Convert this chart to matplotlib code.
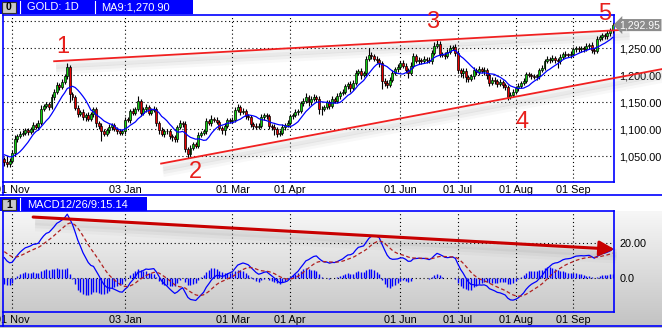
import matplotlib.pyplot as plt
import matplotlib.transforms as mtransforms
from matplotlib.colors import LinearSegmentedColormap
from matplotlib.patches import Rectangle
import numpy as np
import pandas as pd

plt.rcParams['font.family'] = ['Liberation Sans', 'DejaVu Sans']

# ---------------- data ----------------
month_labels = ['', '01 Nov', '', '03 Jan', '', '01 Mar', '01 Apr', '', '01 Jun', '01 Jul', '01 Aug', '01 Sep']

close_oct = [1040, 1035, 1042]
close_nov = [1057, 1082, 1088, 1092, 1094, 1098, 1095, 1100, 1108, 1104, 1112, 1138, 1143, 1146, 1142,
             1160, 1170, 1182, 1178, 1188]
close_dec = [1198, 1216, 1165, 1160, 1140, 1128, 1132, 1122, 1126, 1120, 1128, 1138, 1112, 1106, 1096,
             1092, 1098, 1104, 1108, 1100, 1096, 1093, 1097]
close_jan = [1118, 1117, 1134, 1131, 1138, 1152, 1130, 1137, 1141, 1131, 1136, 1138, 1112, 1099, 1092,
             1097, 1096, 1088, 1085, 1082]
close_feb = [1104, 1112, 1110, 1064, 1055, 1066, 1072, 1070, 1090, 1093, 1096, 1115, 1112, 1119, 1117,
             1114, 1103, 1099, 1107, 1117, 1116]
close_mar = [1118, 1136, 1141, 1132, 1134, 1124, 1122, 1110, 1107, 1104, 1106, 1122, 1126, 1124, 1106,
             1104, 1100, 1092, 1094, 1104, 1108, 1112]
close_apr = [1124, 1126, 1132, 1134, 1148, 1152, 1160, 1150, 1157, 1160, 1157, 1137, 1138, 1141, 1150,
             1144, 1156, 1153, 1162, 1167, 1170, 1180]
close_may = [1183, 1176, 1186, 1205, 1208, 1200, 1204, 1230, 1238, 1236, 1231, 1228, 1222, 1190, 1186,
             1182, 1192, 1204, 1212, 1215]
close_jun = [1222, 1218, 1210, 1204, 1218, 1236, 1226, 1228, 1226, 1230, 1228, 1226, 1242, 1255, 1258,
             1240, 1238, 1236, 1244, 1250, 1252, 1242]
close_jul = [1210, 1205, 1208, 1196, 1194, 1198, 1210, 1206, 1212, 1208, 1210, 1200, 1186, 1192, 1190,
             1184, 1188, 1182, 1178, 1160, 1164, 1170]
close_aug = [1176, 1180, 1186, 1190, 1202, 1200, 1199, 1197, 1198, 1210, 1214, 1226, 1230, 1228, 1232,
             1228, 1226, 1234, 1240, 1238, 1237, 1240]
close_sep = [1248, 1250, 1248, 1250, 1249, 1254, 1256, 1247, 1245, 1268, 1270, 1274, 1272, 1278, 1283,
             1292.95]

# wick lengths above / below the candle bodies
wick_up = [4, 10, 5,
           5, 8, 4, 5, 4, 4, 5, 4, 5, 4, 5, 7, 4, 5, 4, 6, 5, 5, 4, 5,
           4, 6, 3, 5, 4, 5, 4, 5, 4, 6, 4, 4, 4, 4, 5, 4, 4, 5, 4, 4, 5, 4, 4,
           4, 5, 4, 5, 4, 9, 5, 4, 5, 4, 4, 5, 4, 4, 5, 4, 4, 5, 4, 4,
           4, 6, 4, 5, 4, 5, 4, 4, 5, 4, 4, 6, 4, 8, 4, 5, 4, 4, 5, 4, 4,
           4, 5, 6, 4, 5, 4, 4, 5, 4, 4, 5, 6, 4, 5, 4, 4, 5, 4, 4, 5, 4, 5,
           5, 4, 5, 4, 5, 6, 8, 4, 5, 6, 4, 4, 5, 4, 5, 4, 6, 4, 5, 4, 5, 4,
           4, 6, 5, 5, 4, 5, 4, 5, 12, 5, 4, 5, 4, 4, 5, 6, 4, 5, 4, 5,
           5, 6, 4, 4, 6, 5, 4, 5, 4, 5, 4, 5, 5, 6, 7, 5, 4, 5, 4, 6, 4, 5,
           5, 4, 6, 5, 4, 5, 6, 4, 5, 4, 5, 4, 4, 5, 4, 4, 5, 4, 4, 4, 5, 4,
           4, 5, 4, 5, 5, 4, 5, 4, 5, 4, 5, 5, 6, 4, 5, 4, 4, 5, 4, 5, 4, 5,
           4, 5, 4, 5, 4, 5, 4, 5, 4, 5, 4, 5, 4, 5, 4, 3]
wick_dn = [8, 5, 4,
           4, 6, 5, 4, 5, 4, 6, 4, 5, 4, 5, 4, 5, 4, 6, 4, 5, 4, 5, 4,
           4, 5, 14, 6, 5, 6, 4, 5, 6, 4, 5, 5, 8, 5, 18, 5, 4, 4, 5, 4, 5, 4, 4,
           5, 4, 5, 4, 5, 4, 6, 4, 5, 4, 5, 4, 6, 8, 5, 6, 4, 5, 6, 5,
           5, 4, 6, 6, 9, 4, 5, 4, 4, 5, 4, 5, 4, 5, 4, 4, 5, 8, 9, 4, 5,
           5, 4, 4, 6, 4, 5, 4, 5, 6, 4, 4, 4, 5, 4, 6, 5, 10, 6, 4, 4, 5, 4,
           4, 5, 4, 5, 4, 5, 4, 6, 5, 4, 6, 8, 11, 5, 4, 6, 4, 5, 4, 5, 4, 5,
           5, 6, 4, 4, 5, 6, 4, 5, 4, 5, 4, 5, 6, 15, 6, 5, 4, 5, 4, 5,
           4, 5, 6, 9, 4, 5, 4, 6, 5, 4, 6, 4, 5, 4, 5, 6, 4, 5, 4, 5, 4, 6,
           6, 8, 10, 9, 6, 5, 4, 6, 5, 4, 8, 6, 5, 4, 6, 5, 4, 6, 5, 5, 4, 5,
           4, 5, 4, 4, 5, 4, 5, 4, 5, 4, 4, 5, 4, 5, 4, 6, 13, 5, 4, 5, 4, 5,
           5, 4, 5, 4, 5, 4, 5, 6, 6, 4, 5, 4, 5, 4, 5, 4]

# closes before the visible window, only used to warm up MA / MACD
seed_closes = [955, 978, 995, 996, 1000, 997, 1006, 1006, 1001, 1009, 1019, 1014, 1010, 1003, 1014,
               1010, 997, 992, 991, 995, 1008, 1000, 1004, 1017, 1039, 1042, 1049, 1050, 1057, 1064,
               1065, 1050, 1051, 1060, 1056, 1058, 1062, 1056, 1048, 1045]

price_ticks = [1050, 1100, 1150, 1200, 1250]
price_grid = [1050, 1100, 1150, 1200, 1250, 1300]
macd_ticks = [0, 20]
macd_tick_labels = ['0.0', '20.00']
last_price = 1292.95
title_text = 'GOLD: 1D'
ma_text = 'MA9:1,270.90'
macd_text = 'MACD12/26/9:15.14'

wave_labels = ['1', '2', '3', '4', '5']
wave_pos = [(22.4, 1252), (72.8, 1021), (163.2, 1299), (197.6, 1113), (228.9, 1313)]
upper_line = ([19, 237.7], [1226, 1284.6])
lower_line = ([59.8, 251], [1036.6, 1211.7])
macd_arrow = ([11, 232.7], [35, 16.4])

# ---------------- derived series ----------------
months = [close_oct, close_nov, close_dec, close_jan, close_feb, close_mar,
          close_apr, close_may, close_jun, close_jul, close_aug, close_sep]
closes = np.array(sum(months, []), dtype=float)
n = len(closes)
x = np.arange(n)
month_start = np.cumsum([0] + [len(m) for m in months[:-1]])

opens = np.r_[seed_closes[-1], closes[:-1]]
highs = np.maximum(opens, closes) + np.array(wick_up)
lows = np.minimum(opens, closes) - np.array(wick_dn)

allc = pd.Series(np.r_[seed_closes, closes])
ma9 = allc.rolling(9).mean().values[-n:]
macd_full = allc.ewm(span=12, adjust=False).mean() - allc.ewm(span=26, adjust=False).mean()
sig_full = macd_full.ewm(span=9, adjust=False).mean()
macd = macd_full.values[-n:]
signal = sig_full.values[-n:]
hist = macd - signal

# ---------------- figure ----------------
W, H = 662, 328
BLUE = '#0000ff'
fig = plt.figure(figsize=(W / 100, H / 100), dpi=100)

bg = fig.add_axes([0, 0, 1, 1], zorder=-5)
grad = np.linspace(0, 1, 120)[:, None]
bg.imshow(grad, extent=(0, W, H, 211), origin='upper', aspect='auto',
          cmap=LinearSegmentedColormap.from_list('g', ['#f7f7f7', '#c2c2c2']))
bg.set_xlim(0, W)
bg.set_ylim(H, 0)
bg.axis('off')

ax1 = fig.add_axes([3 / W, 1 - 182 / H, 611 / W, 167 / H], zorder=1)
ax2 = fig.add_axes([3 / W, 1 - 312 / H, 611 / W, 101 / H], zorder=1)
ax2.set_facecolor('none')

dotted = dict(color='black', lw=0.8, linestyle=(0, (1, 2.5)), zorder=0)
tick_idx = [i for i, lab in zip(month_start, month_labels) if lab]
tick_lab = [lab for lab in month_labels if lab]

for ax in (ax1, ax2):
    ax.set_xlim(-0.5, n - 0.5)
    for i in tick_idx:
        ax.axvline(i, **dotted)
    ax.set_xticks(tick_idx)
    ax.set_xticklabels(tick_lab)
    ax.yaxis.tick_right()
    ax.tick_params(length=0, labelsize=7.8, colors='black')
    ax.tick_params(axis='x', pad=2)
    ax.tick_params(axis='y', pad=4)
    for s in ax.spines.values():
        s.set_color(BLUE)
        s.set_linewidth(1.2)


def shadow(ax, xs, ys, lw=5):
    for k, a in [(4, 0.10), (7, 0.08), (10, 0.05)]:
        tr = mtransforms.offset_copy(ax.transData, fig=fig, x=2, y=-k, units='dots')
        ax.plot(xs, ys, color='#808080', lw=lw, alpha=a, transform=tr, clip_on=False,
                solid_capstyle='butt', zorder=2)


# price panel
ax1.set_ylim(1002.5, 1311.6)
for p in price_grid:
    ax1.axhline(p, **dotted)
ax1.set_yticks(price_ticks)
ax1.set_yticklabels([f'{p:,.2f}' for p in price_ticks])

up = closes >= opens
ax1.vlines(x, lows, highs, color='black', lw=0.8, zorder=3)
ax1.bar(x, np.maximum(np.abs(closes - opens), 1.5), bottom=np.minimum(opens, closes), width=0.75,
        color=np.where(up, '#10d010', '#e80000'), edgecolor='black', linewidth=0.5, zorder=4)
ax1.plot(x, ma9, color=BLUE, lw=0.9, zorder=5)

for xs, ys in (upper_line, lower_line):
    shadow(ax1, xs, ys)
    ax1.plot(xs, ys, color='#f02020', lw=1.3, clip_on=False, zorder=6)

for lab, (xi, yi) in zip(wave_labels, wave_pos):
    ax1.text(xi, yi, lab, color='#e8201c', fontsize=17, ha='center', va='center',
             clip_on=False, zorder=7)

ax1.annotate(f'{last_price:,.2f}', xy=(1.0, last_price), xycoords=('axes fraction', 'data'),
             xytext=(4, 0), textcoords='offset points', ha='left', va='center', fontsize=7.5,
             color='white', annotation_clip=False, zorder=8,
             bbox=dict(boxstyle='larrow,pad=0.1', fc='#8c8c8c', ec='none'))

# MACD panel
ax2.set_ylim(-19.9, 38.5)
for v in macd_ticks:
    ax2.axhline(v, **dotted)
ax2.set_yticks(macd_ticks)
ax2.set_yticklabels(macd_tick_labels)
ax2.vlines(x, 0, hist, color=BLUE, lw=1.0, zorder=3)
ax2.plot(x, macd, color=BLUE, lw=0.9, zorder=4)
ax2.plot(x, signal, color='#b02020', lw=0.9, linestyle=(0, (3, 2)), zorder=4)
shadow(ax2, *macd_arrow, lw=6)
ax2.annotate('', xy=(macd_arrow[0][1], macd_arrow[1][1]), xytext=(macd_arrow[0][0], macd_arrow[1][0]),
             annotation_clip=False, zorder=6,
             arrowprops=dict(arrowstyle='-|>,head_length=0.9,head_width=0.45', color='#c80000',
                             lw=2.2, shrinkA=0, shrinkB=0))

# window chrome: header bars and frame lines
ov = fig.add_axes([0, 0, 1, 1], zorder=10)
ov.set_xlim(0, W)
ov.set_ylim(H, 0)
ov.axis('off')
ov.add_patch(Rectangle((0, 0), 193, 14, fc=BLUE, ec='none'))
ov.add_patch(Rectangle((0, 197), 147, 14, fc=BLUE, ec='none'))
for y0, lab in ((1, '0'), (198, '1')):
    ov.add_patch(Rectangle((2, y0 + 1), 14, 11, fc='#c8c8c8', ec='#303030', lw=0.8))
    ov.text(9, y0 + 6.5, lab, ha='center', va='center', fontsize=7.5, fontweight='bold')
    ov.plot([20, 20], [y0, y0 + 12], color='white', lw=0.8)
ov.plot([95, 95], [1, 13], color='white', lw=0.8)
ov.text(27, 7.5, title_text, color='white', va='center', fontsize=8)
ov.text(101, 7.5, ma_text, color='white', va='center', fontsize=8)
ov.text(27, 204.5, macd_text, color='white', va='center', fontsize=8)
ov.plot([0, W], [195, 195], color=BLUE, lw=1.2)
ov.plot([0, W], [326, 326], color=BLUE, lw=1.2)
ov.plot([3, 3], [182, 195], color=BLUE, lw=1.2)
ov.plot([3, 3], [312, 326], color=BLUE, lw=1.2)

fig.savefig('out.png', dpi=100)
